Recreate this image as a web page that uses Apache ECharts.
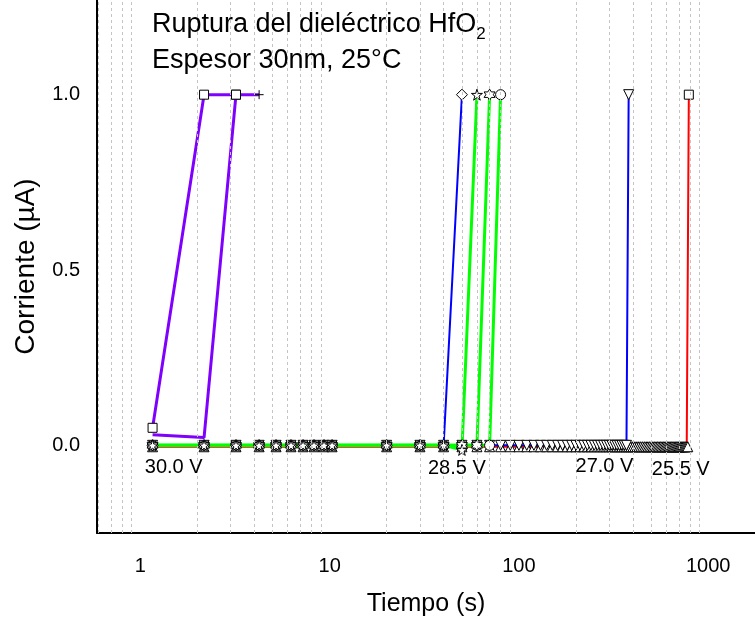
<!DOCTYPE html>
<html>
<head>
<meta charset="utf-8">
<script src="https://cdn.jsdelivr.net/npm/echarts@6/dist/echarts.min.js"></script>
<style>
  html, body { margin: 0; padding: 0; background: #fff; }
  #chart { width: 755px; height: 623px; }
</style>
</head>
<body>
<div id="chart"></div>
<script>
// Sampling times (s): 1 s steps first, then 10 s steps
const tiempos = [
  1.16, 2.17, 3.2, 4.24, 5.21, 6.25, 7.24, 8.27, 9.34, 10.3,
  20, 30, 40, 50, 60, 70, 80, 90, 100, 110, 120, 130, 140, 150, 160, 170, 180, 190, 200,
  210, 220, 230, 240, 250, 260, 270, 280, 290, 300, 310, 320, 330, 340, 350, 360, 370, 380,
  390, 400, 410, 420, 430, 440, 450, 460, 470, 480, 490, 500, 510, 520, 530, 540, 550, 560,
  570, 580, 590, 600, 610, 620, 630, 640, 650, 660, 670, 680, 690, 700, 710, 720, 730, 740,
  750, 760, 770, 780, 790
];

// Current (µA) per run; each run uses the first N sampling times
const i30a = [0.05, 1.0, 1.0, 1.0];
const i30b = [0.03, 0.022, 1.0];
const i285a = [0, 0, 0, 0, 0, 0, 0, 0, 0, 0, 0, 0, 0, 1.0];
const i285b = [0, 0, 0, 0, 0, 0, 0, 0, 0, 0, 0, 0, 0, -0.013, 1.0];
const i285c = [0, 0, 0, 0, 0, 0, 0, 0, 0, 0, 0, 0, 0, 0, 0, 1.0];
const i285d = [0, 0, 0, 0, 0, 0, 0, 0, 0, 0, 0, 0, 0, 0, 0, 0, 1.0];
const i270 = [
  0, 0, 0, 0, 0, 0, 0, 0, 0, 0,
  0, 0, 0, 0, 0, 0, 0, 0, 0, 0, 0, 0, 0, 0, 0, 0, 0, 0, 0,
  0, 0, 0, 0, 0, 0, 0, 0, 0, 0, 0, 0, 0, 0, 0, 0, 0, 1.0
];
const i255 = [
  -0.004, -0.004, -0.004, -0.004, -0.004, -0.004, -0.004, -0.004, -0.004, -0.004,
  -0.004, -0.004, -0.004, -0.004, -0.004, -0.004, -0.004, -0.004, -0.004, -0.004,
  -0.004, -0.004, -0.004, -0.004, -0.004, -0.004, -0.004, -0.004, -0.004, -0.004,
  -0.004, -0.004, -0.004, -0.004, -0.004, -0.004, -0.004, -0.004, -0.004, -0.004,
  -0.004, -0.004, -0.004, -0.004, -0.004, -0.004, -0.004, -0.004, -0.004, -0.004,
  -0.004, -0.004, -0.004, -0.004, -0.004, -0.004, -0.004, -0.004, -0.004, -0.004,
  -0.004, -0.004, -0.004, -0.004, -0.004, -0.004, -0.004, -0.004, -0.004, -0.004,
  -0.004, -0.004, -0.004, -0.004, -0.004, -0.004, -0.004, -0.004, -0.004, -0.004,
  -0.004, -0.004, -0.004, -0.004, -0.004, -0.004, -0.004, 1.0
];

// Voltage labels and where they sit (time, current)
const etiquetas = ['30.0 V', '28.5 V', '27.0 V', '25.5 V'];
const etiquetaT = [1.5, 47, 283, 716];
const etiquetaI = [-0.062, -0.065, -0.061, -0.07];

// Minor decade lines of the log time axis
const lineasMenores = [
  0.6, 0.7, 0.8, 0.9,
  2, 3, 4, 5, 6, 7, 8, 9,
  20, 30, 40, 50, 60, 70, 80, 90,
  200, 300, 400, 500, 600, 700, 800, 900
];
const ticksY = [0, 0.5, 1.0];

const STAR = 'path://M50,0 L61,35 L98,35 L68,57 L79,91 L50,70 L21,91 L32,57 L2,35 L39,35 Z';
const HEXA = 'path://M50,0 L64,25 L93,25 L79,50 L93,75 L64,75 L50,100 L36,75 L7,75 L21,50 L7,25 L36,25 Z';
const PLUS = 'path://M0,50 L100,50 M50,0 L50,100';

function pares(corrientes, overrides) {
  return corrientes.map((v, k) => {
    const item = { value: [tiempos[k], v] };
    if (overrides && overrides[k]) Object.assign(item, overrides[k]);
    return item;
  });
}

function serie(nombre, corrientes, color, ancho, simbolo, tam, extra, overrides) {
  return Object.assign({
    name: nombre,
    type: 'line',
    data: pares(corrientes, overrides),
    symbol: simbolo,
    symbolSize: tam,
    showAllSymbol: true,
    animation: false,
    lineStyle: { color: color, width: ancho },
    itemStyle: { color: '#fff', borderColor: '#000', borderWidth: 1 },
    emphasis: { disabled: true }
  }, extra || {});
}

const ultimo = (arr) => arr.length - 1;
const fuente = 'Liberation Sans, Arial, sans-serif';

const series = [
  serie('25.5 V', i255, '#ff0000', 2, 'triangle', 10, {
    markLine: {
      silent: true,
      symbol: ['none', 'none'],
      label: { show: false },
      lineStyle: { color: '#c4c4c4', width: 1, type: [3, 3] },
      data: lineasMenores.map(v => ({ xAxis: v }))
    },
    markPoint: {
      silent: true,
      symbolSize: 0,
      label: { show: true, color: '#000', fontSize: 20, fontFamily: fuente,
               formatter: p => p.name },
      data: etiquetas.map((e, k) => ({ name: e, coord: [etiquetaT[k], etiquetaI[k]] }))
    }
  }, { [ultimo(i255)]: { symbol: 'rect', symbolSize: 9 } }),
  serie('27.0 V', i270, '#0000ff', 2, 'triangle', 10, { symbolRotate: 180 }),
  serie('28.5 V d', i285d, '#00ff00', 3, 'circle', 10),
  serie('28.5 V a', i285a, '#0000ff', 2, 'diamond', 11),
  serie('28.5 V c', i285c, '#00ff00', 3, HEXA, 11),
  serie('28.5 V b', i285b, '#00ff00', 3, STAR, 11),
  serie('30.0 V a', i30a, '#8000ff', 3, 'rect', 9, null, { [ultimo(i30a)]: { symbol: PLUS, symbolSize: 9 } }),
  serie('30.0 V b', i30b, '#8000ff', 3, 'none', 9, null, { [ultimo(i30b)]: { symbol: 'rect' } })
];

const chart = echarts.init(document.getElementById('chart'), null, { renderer: 'canvas' });
chart.setOption({
  backgroundColor: '#fff',
  animation: false,
  title: {
    left: 147,
    top: 2,
    text: 'Ruptura del dieléctrico HfO{sub|2}\nEspesor 30nm, 25°C',
    textStyle: {
      color: '#000', fontSize: 27, fontWeight: 'normal', fontFamily: fuente, lineHeight: 36,
      rich: { sub: { fontSize: 17, verticalAlign: 'bottom', padding: [14, 0, 0, 0], fontFamily: fuente, color: '#000' } }
    }
  },
  grid: { left: 97, right: 0, top: 0, bottom: 90, containLabel: false },
  xAxis: {
    type: 'log',
    logBase: 10,
    min: 0.59,
    max: 1767,
    name: 'Tiempo (s)',
    nameLocation: 'middle',
    nameGap: 59,
    nameTextStyle: { color: '#000', fontSize: 25, fontFamily: fuente },
    axisLine: { show: true, onZero: false, lineStyle: { color: '#000', width: 2 } },
    axisTick: { show: false },
    splitLine: { show: false },
    axisLabel: {
      color: '#000', fontSize: 20, fontFamily: fuente, margin: 23,
      showMinLabel: false, showMaxLabel: false,
      formatter: v => {
        const e = Math.log10(v);
        return Math.abs(e - Math.round(e)) < 1e-6 ? String(Math.round(v)) : '';
      }
    }
  },
  yAxis: {
    type: 'value',
    min: -0.25,
    max: 1.27,
    interval: 0.25,
    name: 'Corriente (µA)',
    nameLocation: 'middle',
    nameGap: 57,
    nameTextStyle: { color: '#000', fontSize: 28, fontFamily: fuente },
    axisLine: { show: true, onZero: false, lineStyle: { color: '#000', width: 2 } },
    axisTick: { show: false },
    splitLine: { show: false },
    axisLabel: {
      color: '#000', fontSize: 20, fontFamily: fuente, margin: 17,
      formatter: v => ticksY.some(t => Math.abs(t - v) < 1e-9) ? v.toFixed(1) : ''
    }
  },
  series: series
});
</script>
</body>
</html>
